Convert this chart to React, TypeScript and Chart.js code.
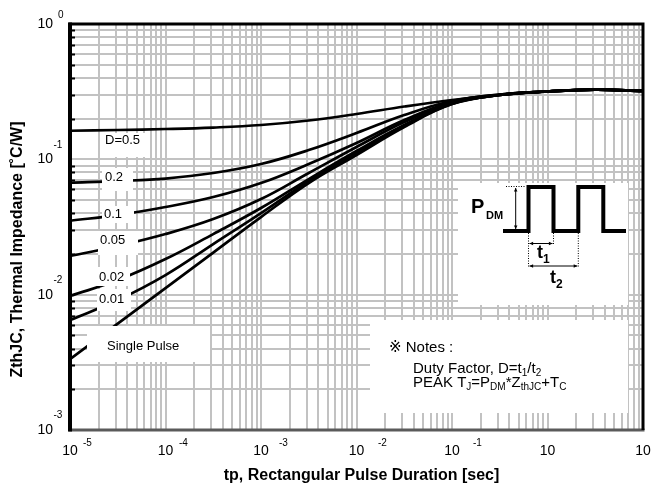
import { useEffect, useRef } from "react";
import { Chart, registerables } from "chart.js";

Chart.register(...registerables);

// ---- data ----
const pulseDuration = [1e-5, 3.162e-5, 1e-4, 3.162e-4, 1e-3, 3.162e-3, 1e-2, 3.162e-2, 0.1, 0.3162, 1, 3.162, 10];
const zthD05 = [0.1627, 0.1647, 0.1675, 0.1718, 0.1793, 0.1936, 0.2162, 0.2456, 0.2744, 0.2987, 0.317, 0.327, 0.32];
const zthD02 = [0.06716, 0.06913, 0.07212, 0.0792, 0.09232, 0.1171, 0.1564, 0.2125, 0.2697, 0.3013, 0.317, 0.327, 0.32];
const zthD01 = [0.03517, 0.03876, 0.04441, 0.05264, 0.0668, 0.09232, 0.132, 0.1952, 0.2652, 0.3013, 0.317, 0.327, 0.32];
const zthD005 = [0.01929, 0.02287, 0.02804, 0.03621, 0.05088, 0.0792, 0.1233, 0.1887, 0.2607, 0.2987, 0.317, 0.327, 0.32];
const zthD002 = [0.00977, 0.01282, 0.01833, 0.02804, 0.04366, 0.07152, 0.1152, 0.1793, 0.2585, 0.2987, 0.317, 0.327, 0.32];
const zthD001 = [0.00649, 0.00912, 0.01396, 0.02366, 0.0401, 0.06913, 0.1113, 0.1762, 0.2563, 0.2987, 0.317, 0.327, 0.32];
const zthSingle = [0.00334, 0.006114, 0.01119, 0.02047, 0.03746, 0.0668, 0.1076, 0.1733, 0.2563, 0.2987, 0.317, 0.327, 0.32];

const curveNames = ["D=0.5", "0.2", "0.1", "0.05", "0.02", "0.01", "Single Pulse"];
const xTickValues = [1e-5, 1e-4, 1e-3, 1e-2, 1e-1, 1, 10];
const xTickBase = ["10", "10", "10", "10", "10", "10", "10"];
const xTickExp = ["-5", "-4", "-3", "-2", "-1", "", ""];
const yTickValues = [1, 0.1, 0.01, 0.001];
const yTickBase = ["10", "10", "10", "10"];
const yTickExp = ["0", "-1", "-2", "-3"];
const xTitle = "tp, Rectangular Pulse Duration [sec]";
const yTitle = "ZthJC, Thermal Impedance [˚C/W]";

const FONT = '"Liberation Sans", Arial, Helvetica, sans-serif';
const SYMFONT = '"Liberation Sans", "DejaVu Sans", "Noto Sans CJK JP", sans-serif';

function decadeTicks(lo: number, hi: number) {
  const out: { value: number }[] = [];
  for (let n = lo; n < hi; n++) {
    for (let k = 1; k <= 9; k++) out.push({ value: parseFloat((k * Math.pow(10, n)).toPrecision(6)) });
  }
  out.push({ value: Math.pow(10, hi) });
  return out;
}

type Part = [string, "n" | "sub" | "sup"];
function rich(ctx: CanvasRenderingContext2D, x: number, y: number, parts: Part[], size: number, subSize: number, bold: boolean, subDrop = 0.3) {
  let cx = x;
  ctx.textAlign = "left";
  ctx.textBaseline = "alphabetic";
  for (const [t, kind] of parts) {
    const s = kind === "n" ? size : subSize;
    ctx.font = `${bold ? "bold " : ""}${s}px ${FONT}`;
    const dy = kind === "sub" ? size * subDrop : kind === "sup" ? -size * 0.45 : 0;
    ctx.fillText(t, cx, y + dy);
    cx += ctx.measureText(t).width;
  }
}

function arrow(ctx: CanvasRenderingContext2D, x1: number, y1: number, x2: number, y2: number) {
  const a = Math.atan2(y2 - y1, x2 - x1);
  const h = 4;
  ctx.beginPath();
  ctx.moveTo(x1, y1);
  ctx.lineTo(x2, y2);
  ctx.stroke();
  const head = (x: number, y: number, ang: number) => {
    ctx.beginPath();
    ctx.moveTo(x, y);
    ctx.lineTo(x - h * Math.cos(ang - 0.45), y - h * Math.sin(ang - 0.45));
    ctx.lineTo(x - h * Math.cos(ang + 0.45), y - h * Math.sin(ang + 0.45));
    ctx.closePath();
    ctx.fill();
  };
  head(x2, y2, a);
  head(x1, y1, a + Math.PI);
}

const decorPlugin = {
  id: "decor",
  afterDatasetsDraw(chart: any) {
    const ctx: CanvasRenderingContext2D = chart.ctx;
    const xs = chart.scales.x;
    const ys = chart.scales.y;
    const { left, right, top, bottom } = chart.chartArea;
    ctx.save();

    // white label boxes
    ctx.fillStyle = "#fff";
    const boxes = [
      [100, 133, 47, 24],
      [102, 168, 31, 23],
      [102, 206, 32, 17],
      [98, 231, 40, 24],
      [97, 267, 33, 19],
      [97, 289, 34, 22],
      [87, 326, 123, 36],
      [458, 183, 170, 122],
      [370, 320, 258, 93],
    ];
    for (const [bx, by, bw, bh] of boxes) ctx.fillRect(bx, by, bw, bh);

    // curve labels
    const labelPos = [
      [105, 140],
      [105, 177.5],
      [104, 214],
      [100, 240],
      [99, 277],
      [99, 299],
      [107, 346],
    ];
    ctx.fillStyle = "#000";
    ctx.font = `13px ${FONT}`;
    ctx.textAlign = "left";
    ctx.textBaseline = "middle";
    curveNames.forEach((n, i) => ctx.fillText(n, labelPos[i][0], labelPos[i][1]));

    // pulse diagram
    ctx.strokeStyle = "#000";
    ctx.lineWidth = 4;
    ctx.lineJoin = "miter";
    ctx.beginPath();
    ctx.moveTo(503, 231);
    ctx.lineTo(528.5, 231);
    ctx.lineTo(528.5, 187);
    ctx.lineTo(553.5, 187);
    ctx.lineTo(553.5, 231);
    ctx.lineTo(578.3, 231);
    ctx.lineTo(578.3, 187);
    ctx.lineTo(603.3, 187);
    ctx.lineTo(603.3, 231);
    ctx.lineTo(626, 231);
    ctx.stroke();

    ctx.lineWidth = 1;
    ctx.setLineDash([1, 1.5]);
    ctx.beginPath();
    ctx.moveTo(506, 186.5);
    ctx.lineTo(526, 186.5);
    ctx.moveTo(528.5, 233);
    ctx.lineTo(528.5, 267);
    ctx.moveTo(553.5, 233);
    ctx.lineTo(553.5, 245);
    ctx.moveTo(578.3, 233);
    ctx.lineTo(578.3, 267);
    ctx.stroke();
    ctx.setLineDash([]);
    ctx.fillStyle = "#000";
    arrow(ctx, 515.7, 188, 515.7, 229);
    arrow(ctx, 529.5, 243.5, 552.5, 243.5);
    arrow(ctx, 529.5, 266, 577.3, 266);

    rich(ctx, 471, 213, [["P", "n"]], 20, 11, true);
    rich(ctx, 486, 218.5, [["DM", "n"]], 11, 11, true);
    rich(ctx, 537, 258, [["t", "n"], ["1", "sub"]], 18, 12, true, 0.28);
    rich(ctx, 550, 283, [["t", "n"], ["2", "sub"]], 18, 12, true, 0.28);

    // notes
    ctx.font = `15px ${SYMFONT}`;
    ctx.textAlign = "left";
    ctx.textBaseline = "alphabetic";
    ctx.fillText("※ Notes :", 389, 352);
    rich(ctx, 413, 372.5, [["Duty Factor, D=t", "n"], ["1", "sub"], ["/t", "n"], ["2", "sub"]], 15, 10, false, 0.22);
    rich(ctx, 413, 386.5, [["PEAK T", "n"], ["J", "sub"], ["=P", "n"], ["DM", "sub"], ["*Z", "n"], ["thJC", "sub"], ["+T", "n"], ["C", "sub"]], 15, 10, false, 0.22);

    // left-axis minor ticks
    ctx.strokeStyle = "#000";
    ctx.lineWidth = 2;
    ctx.beginPath();
    for (let n = -3; n < 0; n++) {
      for (let k = 2; k <= 9; k++) {
        const py = Math.round(ys.getPixelForValue(k * Math.pow(10, n))) + 0.5;
        ctx.moveTo(left, py);
        ctx.lineTo(left + 5, py);
      }
    }
    ctx.stroke();

    // frame
    ctx.lineWidth = 3;
    ctx.strokeStyle = "#5a5a5a";
    ctx.beginPath();
    ctx.moveTo(left - 1.5, bottom);
    ctx.lineTo(right + 1.5, bottom);
    ctx.stroke();
    ctx.strokeStyle = "#000";
    ctx.beginPath();
    ctx.moveTo(left - 1.5, top);
    ctx.lineTo(right + 1.5, top);
    ctx.moveTo(right, top);
    ctx.lineTo(right, bottom);
    ctx.stroke();
    ctx.lineWidth = 4;
    ctx.beginPath();
    ctx.moveTo(left, top - 1.5);
    ctx.lineTo(left, bottom + 1.5);
    ctx.stroke();

    // x tick labels
    const supGap = [13, 13.5, 18, 21.5, 21, 0, 0];
    ctx.fillStyle = "#000";
    xTickValues.forEach((v, i) => {
      const px = xs.getPixelForValue(v);
      ctx.font = `14px ${FONT}`;
      ctx.textAlign = "center";
      ctx.textBaseline = "alphabetic";
      ctx.fillText(xTickBase[i], px, 455);
      if (xTickExp[i]) {
        ctx.font = `10px ${FONT}`;
        ctx.textAlign = "left";
        ctx.fillText(xTickExp[i], px + supGap[i], 446);
      }
    });

    // y tick labels
    yTickValues.forEach((v, i) => {
      const py = ys.getPixelForValue(v);
      ctx.font = `14px ${FONT}`;
      ctx.textAlign = "right";
      ctx.textBaseline = "middle";
      ctx.fillText(yTickBase[i], 53, Math.max(py, 19));
      ctx.font = `10px ${FONT}`;
      ctx.textAlign = "left";
      const ex = yTickExp[i];
      ctx.fillText(ex, ex.startsWith("-") ? 53.5 : 58, Math.max(py - 14.5, 15.5));
    });

    // axis titles
    ctx.font = `bold 16px ${FONT}`;
    ctx.textAlign = "center";
    ctx.textBaseline = "alphabetic";
    ctx.fillText(xTitle, 361.5, 480);
    ctx.save();
    ctx.translate(22, 249.5);
    ctx.rotate(-Math.PI / 2);
    ctx.fillText(yTitle, 0, 0);
    ctx.restore();

    ctx.restore();
  },
};

export default function App() {
  const ref = useRef<HTMLCanvasElement | null>(null);
  useEffect(() => {
    if (!ref.current) return;
    const seriesValues = [zthD05, zthD02, zthD01, zthD005, zthD002, zthD001, zthSingle];
    const datasets = seriesValues.map((vals, i) => ({
      label: curveNames[i],
      data: pulseDuration.map((x, j) => ({ x, y: vals[j] })),
      borderColor: "#000",
      borderWidth: 2.7,
      pointRadius: 0,
      fill: false,
      tension: 0.4,
    }));
    const gridOpts = { color: "#c2c2c2", lineWidth: 2, drawTicks: false };
    const chart = new Chart(ref.current, {
      type: "line",
      data: { datasets },
      plugins: [decorPlugin],
      options: {
        animation: false,
        responsive: false,
        events: [],
        layout: { padding: { left: 70, top: 24, right: 9, bottom: 55 } },
        parsing: false as any,
        scales: {
          x: {
            type: "logarithmic",
            min: 1e-5,
            max: 10,
            afterBuildTicks: (s: any) => {
              s.ticks = decadeTicks(-5, 1);
            },
            ticks: { display: false },
            grid: gridOpts,
            border: { display: false },
          },
          y: {
            type: "logarithmic",
            min: 1e-3,
            max: 1,
            afterBuildTicks: (s: any) => {
              s.ticks = decadeTicks(-3, 0);
            },
            ticks: { display: false },
            grid: gridOpts,
            border: { display: false },
          },
        },
        plugins: { legend: { display: false }, tooltip: { enabled: false } },
      },
    });
    return () => chart.destroy();
  }, []);
  return (
    <div style={{ position: "fixed", left: 0, top: 0, width: 652, height: 485, background: "#fff" }}>
      <canvas ref={ref} width={652} height={485} style={{ width: 652, height: 485, display: "block" }} />
    </div>
  );
}
